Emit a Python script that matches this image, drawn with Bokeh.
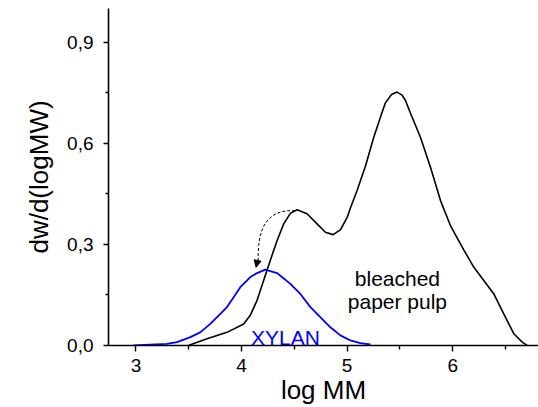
from bokeh.plotting import figure
from bokeh.models import (FixedTicker, CustomJSTickFormatter, Range1d, Arrow,
                          NormalHead)
from bokeh.core.properties import value
from bokeh.embed import file_html
from bokeh.resources import INLINE

# ---- data ----
pulp_x = [3.496, 3.673, 3.862, 4.020, 4.083, 4.147, 4.241, 4.304, 4.336, 4.399,
          4.462, 4.526, 4.620, 4.715, 4.794, 4.867, 4.936, 5.000, 5.031, 5.094,
          5.173, 5.252, 5.315, 5.362, 5.420, 5.473, 5.520, 5.552, 5.599, 5.694,
          5.789, 5.884, 5.978, 6.104, 6.200, 6.294, 6.389, 6.483, 6.578, 6.658,
          6.705]
pulp_y = [0.000, 0.020, 0.039, 0.064, 0.090, 0.134, 0.223, 0.282, 0.311, 0.361,
          0.392, 0.403, 0.391, 0.361, 0.336, 0.329, 0.343, 0.380, 0.408, 0.460,
          0.532, 0.618, 0.677, 0.720, 0.745, 0.752, 0.743, 0.727, 0.690, 0.618,
          0.529, 0.430, 0.356, 0.284, 0.232, 0.193, 0.153, 0.094, 0.035, 0.010,
          0.000]

xylan_x = [2.977, 3.294, 3.389, 3.515, 3.609, 3.704, 3.799, 3.862, 3.925, 3.988,
           4.020, 4.083, 4.147, 4.225, 4.336, 4.462, 4.557, 4.652, 4.746, 4.841,
           4.936, 5.031, 5.125, 5.220]
xylan_y = [0.000, 0.005, 0.010, 0.025, 0.039, 0.064, 0.094, 0.114, 0.143, 0.173,
           0.183, 0.203, 0.215, 0.225, 0.215, 0.183, 0.153, 0.114, 0.084, 0.054,
           0.030, 0.015, 0.007, 0.003]

x_ticks = [3, 4, 5, 6]
x_minor = [3.5, 4.5, 5.5, 6.5]
y_ticks = [0.0, 0.3, 0.6, 0.9]
y_minor = [0.15, 0.45, 0.75]

# annotation anchors (data coordinates)
arrow_path = dict(x0=4.51, y0=0.400, cx0=4.22, cy0=0.405,
                  cx1=4.15, cy1=0.34, x1=4.158, y1=0.250)
arrow_tip = dict(xs=4.158, ys=0.262, xe=4.138, ye=0.232)
pulp_label = dict(x=5.476, y1=0.200, y2=0.131, l1="bleached", l2="paper pulp")
xylan_label = dict(x=4.415, y=0.025, t="XYLAN")

FONT = "Liberation Sans"

p = figure(width=538, height=407, output_backend="svg", toolbar_location=None,
           x_range=Range1d(2.74, 6.812), y_range=Range1d(0.0, 1.0),
           min_border_left=108, min_border_right=0, min_border_top=8,
           min_border_bottom=62)
p.frame_width = 430
p.frame_height = 337
p.outline_line_color = None
p.xgrid.visible = False
p.ygrid.visible = False
p.background_fill_color = "white"
p.border_fill_color = "white"

p.line(pulp_x, pulp_y, line_color="black", line_width=1.6)
p.line(xylan_x, xylan_y, line_color="#0000ff", line_width=1.8)

p.bezier(x0=[arrow_path["x0"]], y0=[arrow_path["y0"]],
         x1=[arrow_path["x1"]], y1=[arrow_path["y1"]],
         cx0=[arrow_path["cx0"]], cy0=[arrow_path["cy0"]],
         cx1=[arrow_path["cx1"]], cy1=[arrow_path["cy1"]],
         line_color="black", line_width=1, line_dash="3 2")
p.add_layout(Arrow(end=NormalHead(size=7, fill_color="black", line_color="black",
                                  line_width=1),
                   x_start=arrow_tip["xs"], y_start=arrow_tip["ys"],
                   x_end=arrow_tip["xe"], y_end=arrow_tip["ye"],
                   line_alpha=0))

p.text(x=[pulp_label["x"], pulp_label["x"]],
       y=[pulp_label["y1"], pulp_label["y2"]],
       text=[pulp_label["l1"], pulp_label["l2"]],
       text_font=value(FONT), text_font_size="21px", text_color="black",
       text_align="center", text_baseline="alphabetic")
p.text(x=[xylan_label["x"]], y=[xylan_label["y"]], text=[xylan_label["t"]],
       text_font=value(FONT), text_font_size="21px", text_color="#0000ff",
       text_align="center", text_baseline="alphabetic")

fmt = CustomJSTickFormatter(code="""
    if (Math.abs(tick - Math.round(tick)) < 1e-9 && tick >= 2) { return tick.toFixed(0); }
    return tick.toFixed(1).replace('.', ',');
""")

for ax in (p.xaxis[0], p.yaxis[0]):
    ax.axis_line_color = "black"
    ax.axis_line_width = 1.6
    ax.major_tick_line_color = "black"
    ax.minor_tick_line_color = "black"
    ax.major_tick_line_width = 1.4
    ax.minor_tick_line_width = 1.4
    ax.major_tick_in = 0
    ax.minor_tick_in = 0
    ax.major_label_text_font = FONT
    ax.major_label_text_font_size = "19px"
    ax.major_label_text_color = "black"
    ax.axis_label_text_font = FONT
    ax.axis_label_text_font_size = "26px"
    ax.axis_label_text_font_style = "normal"
    ax.axis_label_text_color = "black"
    ax.formatter = fmt

p.xaxis[0].ticker = FixedTicker(ticks=x_ticks, minor_ticks=x_minor)
p.yaxis[0].ticker = FixedTicker(ticks=y_ticks, minor_ticks=y_minor)
p.xaxis[0].major_tick_out = 6
p.xaxis[0].minor_tick_out = 4
p.yaxis[0].major_tick_out = 5
p.yaxis[0].minor_tick_out = 3
p.xaxis[0].major_label_standoff = 7
p.yaxis[0].major_label_standoff = 10
p.xaxis[0].axis_label = "log MM"
p.yaxis[0].axis_label = "dw/d(logMW)"
p.xaxis[0].axis_label_standoff = 0
p.yaxis[0].axis_label_standoff = 10

open("out.html", "w").write(file_html(p, INLINE))
